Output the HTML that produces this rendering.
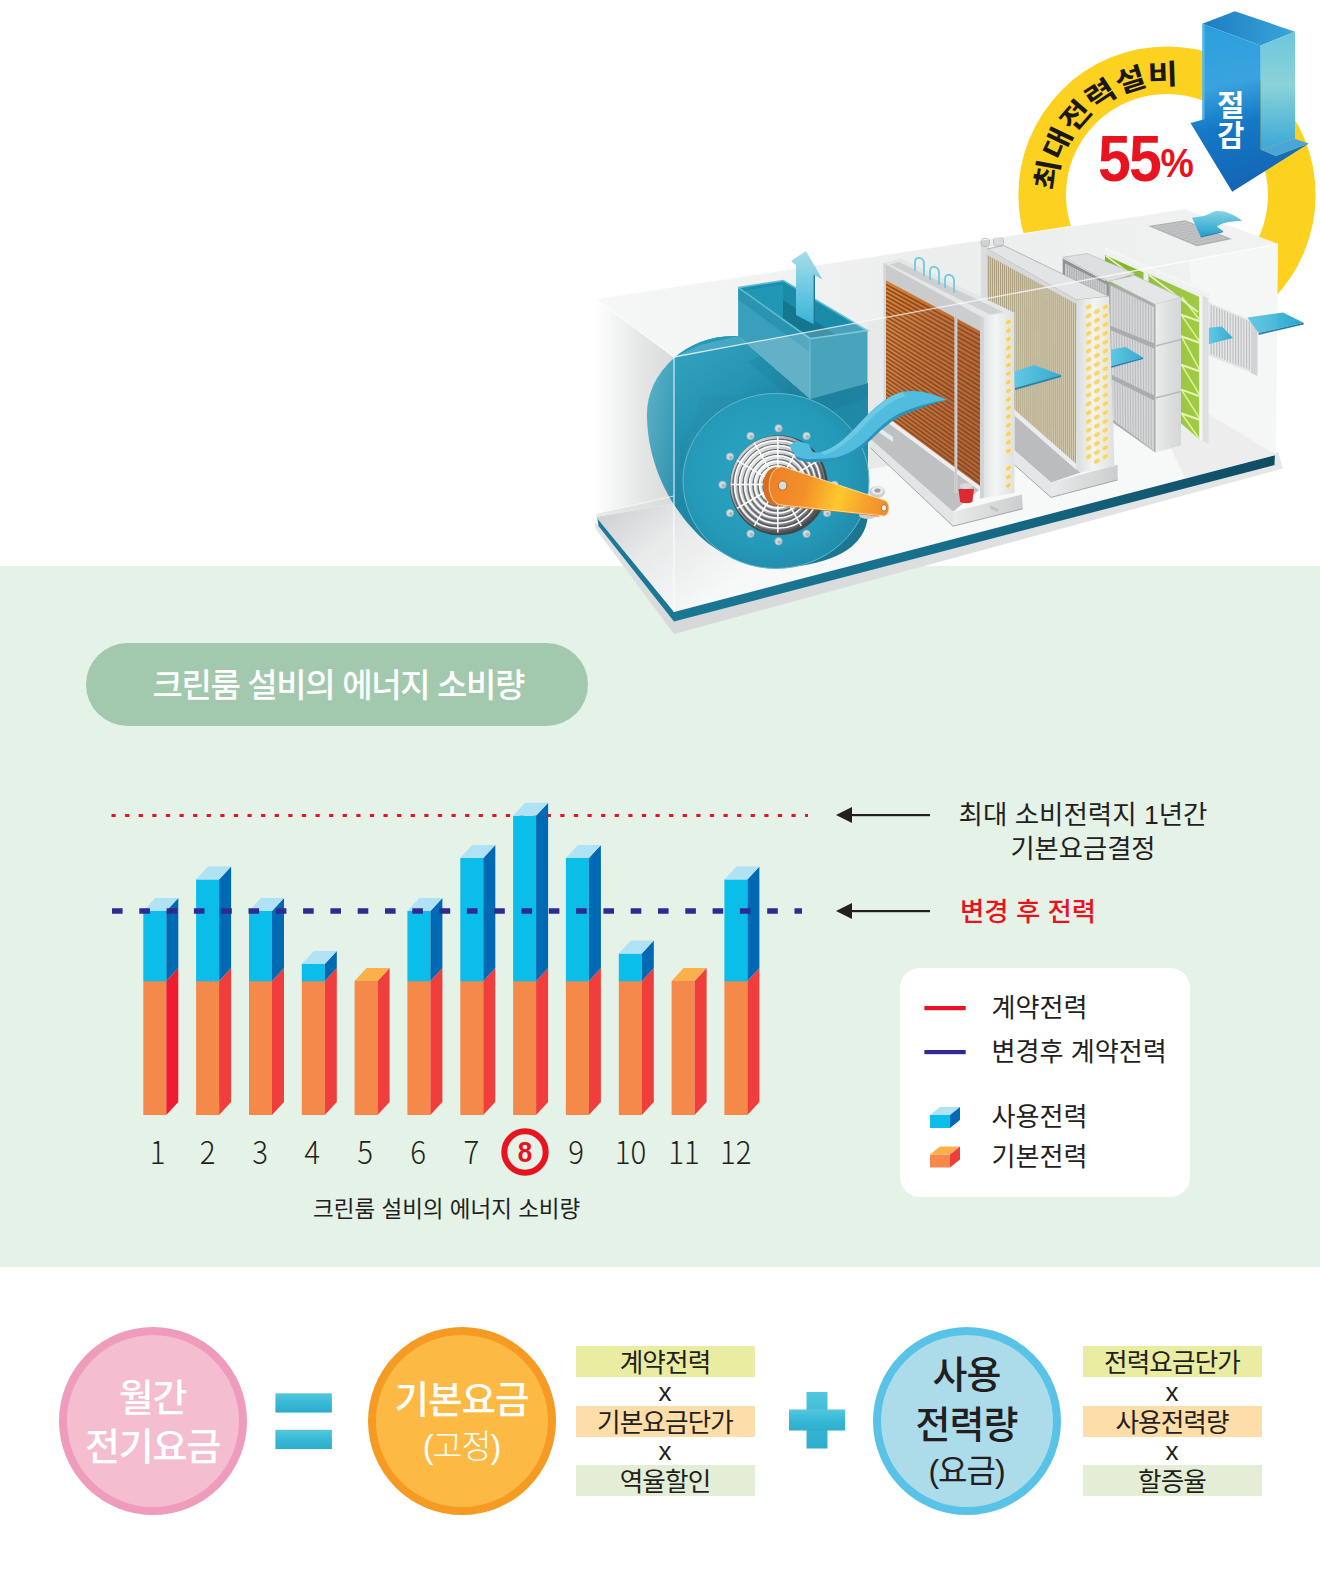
<!DOCTYPE html>
<html lang="ko"><head><meta charset="utf-8"><title>크린룸 설비의 에너지 소비량</title>
<style>
html,body{margin:0;padding:0;background:#fff;}
body{width:1320px;height:1588px;position:relative;overflow:hidden;font-family:"Liberation Sans","Noto Sans CJK KR","NanumGothic",sans-serif;color:#231f20;}
.band{position:absolute;left:0;top:566px;width:1320px;height:700.5px;background:#e4f2e7;}
.pill{position:absolute;left:86px;top:643px;width:501.5px;height:82.5px;border-radius:42px;background:#a2c9ae;color:#fff;font-weight:500;font-size:33px;line-height:85.9px;text-align:center;letter-spacing:-1.35px;text-indent:3px;font-family:"Liberation Sans","Noto Sans CJK KR","NanumGothic",sans-serif;}
svg{position:absolute;left:0;top:0;}
.dg{font-family:"Noto Sans CJK KR","Liberation Sans",sans-serif;font-weight:300;font-size:32px;fill:#231f20;}
.kr{font-family:"Liberation Sans","Noto Sans CJK KR","NanumGothic",sans-serif;}
.legend{position:absolute;left:899.5px;top:967.5px;width:290.5px;height:229.5px;border-radius:20px;background:#fff;}
.circ{position:absolute;box-sizing:border-box;width:188px;height:188px;border-radius:50%;text-align:center;font-family:"Liberation Sans","Noto Sans CJK KR","NanumGothic",sans-serif;}
.bx{position:absolute;width:179px;height:31px;line-height:34.1px;text-align:center;font-size:25.6px;font-family:"Liberation Sans","Noto Sans CJK KR","NanumGothic",sans-serif;letter-spacing:-0.9px;color:#231f20;}
.xx{position:absolute;width:179px;text-align:center;font-size:26px;line-height:28px;font-family:"Liberation Sans",sans-serif;color:#231f20;}
</style></head><body>
<div class="band"></div>
<div class="pill">크린룸 설비의 에너지 소비량</div>
<div class="legend"></div>

<svg width="1320" height="1588" viewBox="0 0 1320 1588">
<!--MACHINE-->
<g id="machine">
<defs>
<linearGradient id="gTop" x1="0" y1="0" x2="1" y2="0"><stop offset="0" stop-color="#f6f7f7"/><stop offset="0.5" stop-color="#eceeee"/><stop offset="1" stop-color="#f1f2f2"/></linearGradient>
<linearGradient id="gEnd" x1="0" y1="0" x2="1" y2="0"><stop offset="0" stop-color="#ffffff" stop-opacity="0.95"/><stop offset="0.25" stop-color="#ffffff" stop-opacity="0.6"/><stop offset="0.6" stop-color="#ffffff" stop-opacity="0.25"/><stop offset="1" stop-color="#ffffff" stop-opacity="0.12"/></linearGradient>
<linearGradient id="gFloor" gradientUnits="userSpaceOnUse" x1="610" y1="500" x2="700" y2="610"><stop offset="0" stop-color="#c6c8ca"/><stop offset="0.45" stop-color="#e6e7e8"/><stop offset="1" stop-color="#f7f8f8"/></linearGradient>
<linearGradient id="gBack" x1="0" y1="0" x2="1" y2="0"><stop offset="0" stop-color="#e6e8e8"/><stop offset="0.13" stop-color="#d3d5d6"/><stop offset="0.3" stop-color="#e2e4e4"/><stop offset="0.55" stop-color="#e9ebeb"/><stop offset="1" stop-color="#f0f1f1"/></linearGradient>
<linearGradient id="tealF" x1="0" y1="0" x2="1" y2="0"><stop offset="0" stop-color="#1d9fc0"/><stop offset="0.5" stop-color="#1a96b6"/><stop offset="1" stop-color="#157f9d"/></linearGradient>
<radialGradient id="tealD" cx="0.45" cy="0.45" r="0.6"><stop offset="0" stop-color="#1fa0c1"/><stop offset="0.7" stop-color="#1a95b5"/><stop offset="1" stop-color="#1584a3"/></radialGradient>
<linearGradient id="tealB" x1="0" y1="0" x2="1" y2="1"><stop offset="0" stop-color="#2f9fbd"/><stop offset="0.4" stop-color="#1584a3"/><stop offset="1" stop-color="#0f6a87"/></linearGradient>
<linearGradient id="tealT" x1="0" y1="0" x2="1" y2="1"><stop offset="0" stop-color="#2a9fbd"/><stop offset="0.35" stop-color="#1a90b0"/><stop offset="0.55" stop-color="#127d9b"/><stop offset="1" stop-color="#168aa9"/></linearGradient>
<linearGradient id="arm" gradientUnits="userSpaceOnUse" x1="768" y1="480" x2="890" y2="510"><stop offset="0" stop-color="#ee7a1c"/><stop offset="0.3" stop-color="#f38a1e"/><stop offset="0.58" stop-color="#fdc623"/><stop offset="0.8" stop-color="#f69c20"/><stop offset="1" stop-color="#ef8420"/></linearGradient>
<linearGradient id="upA" x1="0" y1="0" x2="0" y2="1"><stop offset="0" stop-color="#a8dde9"/><stop offset="1" stop-color="#36b4d9"/></linearGradient>
<linearGradient id="rib" x1="0" y1="0" x2="1" y2="0"><stop offset="0" stop-color="#5cc6e2"/><stop offset="1" stop-color="#2ba6cf"/></linearGradient>
<linearGradient id="cop" x1="0" y1="0" x2="1" y2="0.6"><stop offset="0" stop-color="#d8853a"/><stop offset="0.45" stop-color="#c26c2f"/><stop offset="1" stop-color="#b05d2b"/></linearGradient>
<linearGradient id="gPlate" x1="0" y1="0" x2="1" y2="0"><stop offset="0" stop-color="#d9dbdc"/><stop offset="0.45" stop-color="#f3f4f4"/><stop offset="1" stop-color="#dcdedf"/></linearGradient>
<linearGradient id="gSlabF" x1="0" y1="0" x2="1" y2="0"><stop offset="0" stop-color="#e8e9ea"/><stop offset="1" stop-color="#c9cbcc"/></linearGradient>
<linearGradient id="gFil" x1="0" y1="0" x2="1" y2="0"><stop offset="0" stop-color="#bfc1c3"/><stop offset="1" stop-color="#e4e5e6"/></linearGradient>
<linearGradient id="gFilS" x1="0" y1="0" x2="1" y2="0"><stop offset="0" stop-color="#e9eaea"/><stop offset="1" stop-color="#d2d4d5"/></linearGradient>
<linearGradient id="grn" x1="0" y1="0" x2="1" y2="0"><stop offset="0" stop-color="#7db22b"/><stop offset="1" stop-color="#9dc93a"/></linearGradient>
<linearGradient id="bArrF" gradientUnits="userSpaceOnUse" x1="1215" y1="25" x2="1250" y2="190"><stop offset="0" stop-color="#2b9fdc"/><stop offset="0.35" stop-color="#3aa3df"/><stop offset="0.6" stop-color="#1479c6"/><stop offset="1" stop-color="#1463b3"/></linearGradient>
<linearGradient id="bArrS" x1="0" y1="0" x2="0" y2="1"><stop offset="0" stop-color="#6cc6dd"/><stop offset="0.45" stop-color="#8ad3d9"/><stop offset="1" stop-color="#3ba7d6"/></linearGradient>
<linearGradient id="bArrT" x1="0" y1="0" x2="1" y2="0"><stop offset="0" stop-color="#1c7cc4"/><stop offset="1" stop-color="#3aa6d8"/></linearGradient>
<radialGradient id="fanG" cx="0.35" cy="0.35" r="0.75"><stop offset="0" stop-color="#f2f2f2"/><stop offset="0.45" stop-color="#c4c6c8"/><stop offset="0.8" stop-color="#7b7f81"/><stop offset="1" stop-color="#3f4345"/></radialGradient>
<linearGradient id="glassF" x1="0" y1="0" x2="1" y2="0"><stop offset="0" stop-color="#ffffff" stop-opacity="0.22"/><stop offset="1" stop-color="#ffffff" stop-opacity="0.10"/></linearGradient>
<linearGradient id="band" gradientUnits="userSpaceOnUse" x1="600" y1="0" x2="1275" y2="0"><stop offset="0" stop-color="#1a7a97"/><stop offset="0.5" stop-color="#176f8b"/><stop offset="1" stop-color="#0f4c62"/></linearGradient>
<linearGradient id="slab" gradientUnits="userSpaceOnUse" x1="600" y1="0" x2="1280" y2="0"><stop offset="0" stop-color="#e2e3e4"/><stop offset="0.12" stop-color="#d6d7d8"/><stop offset="1" stop-color="#e6e7e8"/></linearGradient>
<linearGradient id="inA" x1="0" y1="0" x2="0" y2="1"><stop offset="0" stop-color="#86d2e4"/><stop offset="1" stop-color="#22a2cf"/></linearGradient>
<clipPath id="boxclip"><polygon points="596,299 1184,209 1278,244 1278,470 674,640 590,540"/></clipPath>
</defs>
<circle cx="1167" cy="195" r="124.8" fill="none" stroke="#fcd11f" stroke-width="47.6"/>
<path id="arc" d="M 1055.6 191.3 A 111.5 111.5 0 0 1 1278.5 195" fill="none"/>
<text font-family="Liberation Sans, Noto Sans CJK KR, NanumGothic, sans-serif" font-weight="700" font-size="28" fill="#1a1718" textLength="181.5" lengthAdjust="spacingAndGlyphs"><textPath href="#arc" startOffset="0" textLength="181.5" lengthAdjust="spacingAndGlyphs">최대전력설비</textPath></text>
<text transform="translate(1098,180.9) scale(0.915,1)" font-family="Liberation Sans, sans-serif" font-weight="bold" font-size="64.5" letter-spacing="-2" fill="#e8131e">55<tspan font-size="41" dy="-3.7" dx="0.5" letter-spacing="0">%</tspan></text>
<polygon points="595.0,522.0 595.0,528.0 674.0,634.0 1283.0,468.5 1278.0,452.0 674.0,610.0" fill="url(#slab)" />
<polygon points="597.0,516.0 598.5,526.0 674.0,621.5 1274.5,465.0 1275.0,452.0 674.0,607.0" fill="url(#band)" />
<polygon points="596.0,517.0 674.0,612.0 1276.0,455.0 1204.0,411.0" fill="url(#gFloor)" />
<polygon points="596.0,299.0 1184.0,209.0 1204.0,411.0 596.0,517.0" fill="url(#gBack)" />
<polygon points="1184.0,209.0 1278.0,244.0 1276.0,455.0 1204.0,411.0" fill="#f5f6f6" />
<polygon points="1160.0,425.0 1204.0,411.0 1276.0,455.0 1185.0,478.0" fill="#dcddde" opacity="0.4"/>
<polygon points="596.0,299.0 1184.0,209.0 1278.0,244.0 674.0,357.0" fill="url(#gTop)" />
<polygon points="1148.2,226.1 1185.2,220.2 1232.0,238.9 1197.0,246.3" fill="#aeb0b2" />
<polygon points="1153.0,226.5 1185.0,221.6 1226.5,238.5 1197.0,244.6" fill="#c6c8c9" />
<line x1="1156.6" y1="226.0" x2="1200.3" y2="243.9" stroke="#b3b5b7" stroke-width="0.7"/>
<line x1="1160.1" y1="225.4" x2="1203.6" y2="243.2" stroke="#b3b5b7" stroke-width="0.7"/>
<line x1="1163.7" y1="224.9" x2="1206.8" y2="242.6" stroke="#b3b5b7" stroke-width="0.7"/>
<line x1="1167.2" y1="224.3" x2="1210.1" y2="241.9" stroke="#b3b5b7" stroke-width="0.7"/>
<line x1="1170.8" y1="223.8" x2="1213.4" y2="241.2" stroke="#b3b5b7" stroke-width="0.7"/>
<line x1="1174.3" y1="223.2" x2="1216.7" y2="240.5" stroke="#b3b5b7" stroke-width="0.7"/>
<line x1="1177.9" y1="222.7" x2="1219.9" y2="239.9" stroke="#b3b5b7" stroke-width="0.7"/>
<line x1="1181.4" y1="222.1" x2="1223.2" y2="239.2" stroke="#b3b5b7" stroke-width="0.7"/>
<line x1="1157.9" y1="228.5" x2="1189.6" y2="223.5" stroke="#b3b5b7" stroke-width="0.7"/>
<line x1="1162.8" y1="230.5" x2="1194.2" y2="225.4" stroke="#b3b5b7" stroke-width="0.7"/>
<line x1="1167.7" y1="232.5" x2="1198.8" y2="227.2" stroke="#b3b5b7" stroke-width="0.7"/>
<line x1="1172.6" y1="234.5" x2="1203.4" y2="229.1" stroke="#b3b5b7" stroke-width="0.7"/>
<line x1="1177.4" y1="236.6" x2="1208.1" y2="231.0" stroke="#b3b5b7" stroke-width="0.7"/>
<line x1="1182.3" y1="238.6" x2="1212.7" y2="232.9" stroke="#b3b5b7" stroke-width="0.7"/>
<line x1="1187.2" y1="240.6" x2="1217.3" y2="234.7" stroke="#b3b5b7" stroke-width="0.7"/>
<line x1="1192.1" y1="242.6" x2="1221.9" y2="236.6" stroke="#b3b5b7" stroke-width="0.7"/>
<path d="M1242.3,220.7 C1232,213 1222,210 1214.7,211.3 L1204.9,215.8 L1192,217.7 L1200.4,236 L1223,231 L1216.7,226.6 C1222,222.5 1232,221 1242.3,220.7 Z" fill="url(#inA)"/>
<path d="M1200.4,236 L1223,231 L1223,232.3 L1200.8,237.4 Z" fill="#1d86ad"/>
<polygon points="1208.5,302.3 1256.6,322.7 1256.6,374.9 1208.5,355.5" fill="#e3e4e5" />
<line x1="1211.2" y1="305.2" x2="1211.2" y2="354.1" stroke="#b4b6b8" stroke-width="1"/>
<line x1="1213.9" y1="306.3" x2="1213.9" y2="355.2" stroke="#b4b6b8" stroke-width="1"/>
<line x1="1216.7" y1="307.5" x2="1216.7" y2="356.4" stroke="#b4b6b8" stroke-width="1"/>
<line x1="1219.4" y1="308.6" x2="1219.4" y2="357.5" stroke="#b4b6b8" stroke-width="1"/>
<line x1="1222.1" y1="309.8" x2="1222.1" y2="358.6" stroke="#b4b6b8" stroke-width="1"/>
<line x1="1224.8" y1="310.9" x2="1224.8" y2="359.8" stroke="#b4b6b8" stroke-width="1"/>
<line x1="1227.5" y1="312.1" x2="1227.5" y2="360.9" stroke="#b4b6b8" stroke-width="1"/>
<line x1="1230.2" y1="313.2" x2="1230.2" y2="362.0" stroke="#b4b6b8" stroke-width="1"/>
<line x1="1233.0" y1="314.4" x2="1233.0" y2="363.1" stroke="#b4b6b8" stroke-width="1"/>
<line x1="1235.7" y1="315.6" x2="1235.7" y2="364.2" stroke="#b4b6b8" stroke-width="1"/>
<line x1="1238.4" y1="316.7" x2="1238.4" y2="365.4" stroke="#b4b6b8" stroke-width="1"/>
<line x1="1241.1" y1="317.9" x2="1241.1" y2="366.5" stroke="#b4b6b8" stroke-width="1"/>
<line x1="1243.8" y1="319.0" x2="1243.8" y2="367.6" stroke="#b4b6b8" stroke-width="1"/>
<line x1="1246.6" y1="320.2" x2="1246.6" y2="368.8" stroke="#b4b6b8" stroke-width="1"/>
<line x1="1249.3" y1="321.3" x2="1249.3" y2="369.9" stroke="#b4b6b8" stroke-width="1"/>
<polygon points="1251.0,320.5 1257.5,323.0 1257.5,376.0 1251.0,373.0" fill="#cfd1d2" />
<polygon points="1247.4,317.6 1283.0,312.5 1303.6,322.7 1258.6,333.0" fill="url(#rib)" />
<polygon points="1258.6,333.0 1303.6,322.7 1303.6,324.5 1258.6,335.0" fill="#1d7fa6" />
<polygon points="1208.5,327.8 1222.0,326.5 1233.0,338.0 1208.5,344.2" fill="url(#rib)" />
<polygon points="1103.2,249.0 1208.5,294.0 1208.5,443.7 1103.2,360.0" fill="#eceeee" />
<polygon points="1105.0,254.5 1199.5,297.0 1199.5,439.5 1105.0,357.0" fill="url(#grn)" />
<line x1="1182" y1="297.0" x2="1199.5" y2="319.8" stroke="#dff29a" stroke-width="1.5"/>
<line x1="1182" y1="315.8" x2="1199.5" y2="341.3" stroke="#dff29a" stroke-width="1.5"/>
<line x1="1181" y1="314.8" x2="1199.5" y2="321.3" stroke="#e6f5b5" stroke-width="2"/>
<line x1="1182" y1="337.3" x2="1199.5" y2="369.7" stroke="#dff29a" stroke-width="1.5"/>
<line x1="1181" y1="336.3" x2="1199.5" y2="342.8" stroke="#e6f5b5" stroke-width="2"/>
<line x1="1182" y1="365.7" x2="1199.5" y2="394.6" stroke="#dff29a" stroke-width="1.5"/>
<line x1="1181" y1="364.7" x2="1199.5" y2="371.2" stroke="#e6f5b5" stroke-width="2"/>
<line x1="1182" y1="390.6" x2="1199.5" y2="418.2" stroke="#dff29a" stroke-width="1.5"/>
<line x1="1181" y1="389.6" x2="1199.5" y2="396.1" stroke="#e6f5b5" stroke-width="2"/>
<line x1="1182" y1="414.2" x2="1199.5" y2="439.0" stroke="#dff29a" stroke-width="1.5"/>
<line x1="1181" y1="413.2" x2="1199.5" y2="419.7" stroke="#e6f5b5" stroke-width="2"/>
<line x1="1105" y1="254.5" x2="1144" y2="272" stroke="#eef3e0" stroke-width="1.2"/>
<line x1="1106" y1="256" x2="1143" y2="283" stroke="#e6f2c4" stroke-width="1.6"/>
<polygon points="1143.5,268.0 1148.5,270.0 1148.5,304.0 1143.5,302.0" fill="#eef0ee" />
<line x1="1149" y1="275" x2="1198" y2="312" stroke="#e6f2c4" stroke-width="1.6"/>
<polygon points="1199.5,290.5 1208.5,294.0 1208.5,443.7 1199.5,439.5" fill="#dcdedf" />
<polygon points="1199.5,290.5 1202.5,291.7 1202.5,441.0 1199.5,439.5" fill="#f4f5f5" />
<polygon points="1103.2,249.0 1106.0,247.8 1211.0,292.8 1208.5,294.0" fill="#f4f5f5" />
<polygon points="1103.2,249.0 1208.5,294.0 1208.5,298.0 1103.2,253.5" fill="#f0f1f1" />
<polygon points="1062.7,257.3 1087.3,253.6 1135.0,273.6 1109.0,282.0" fill="#dddfe0" stroke="#b4b6b8" stroke-width="0.6"/>
<polygon points="1062.7,258.5 1109.0,283.0 1109.0,335.0 1062.7,312.0" fill="#8f9193" />
<polygon points="1065.0,263.5 1106.5,284.5 1106.5,333.0 1065.0,311.0" fill="#c9cbcd" />
<line x1="1067.3" y1="264.7" x2="1067.3" y2="312.2" stroke="#a2a4a6" stroke-width="0.8"/>
<line x1="1069.6" y1="265.8" x2="1069.6" y2="313.4" stroke="#a2a4a6" stroke-width="0.8"/>
<line x1="1071.9" y1="267.0" x2="1071.9" y2="314.7" stroke="#a2a4a6" stroke-width="0.8"/>
<line x1="1074.2" y1="268.2" x2="1074.2" y2="315.9" stroke="#a2a4a6" stroke-width="0.8"/>
<line x1="1076.5" y1="269.3" x2="1076.5" y2="317.1" stroke="#a2a4a6" stroke-width="0.8"/>
<line x1="1078.8" y1="270.5" x2="1078.8" y2="318.3" stroke="#a2a4a6" stroke-width="0.8"/>
<line x1="1081.1" y1="271.7" x2="1081.1" y2="319.6" stroke="#a2a4a6" stroke-width="0.8"/>
<line x1="1083.4" y1="272.8" x2="1083.4" y2="320.8" stroke="#a2a4a6" stroke-width="0.8"/>
<line x1="1085.8" y1="274.0" x2="1085.8" y2="322.0" stroke="#a2a4a6" stroke-width="0.8"/>
<line x1="1088.1" y1="275.2" x2="1088.1" y2="323.2" stroke="#a2a4a6" stroke-width="0.8"/>
<line x1="1090.4" y1="276.3" x2="1090.4" y2="324.4" stroke="#a2a4a6" stroke-width="0.8"/>
<line x1="1092.7" y1="277.5" x2="1092.7" y2="325.7" stroke="#a2a4a6" stroke-width="0.8"/>
<line x1="1095.0" y1="278.7" x2="1095.0" y2="326.9" stroke="#a2a4a6" stroke-width="0.8"/>
<line x1="1097.3" y1="279.8" x2="1097.3" y2="328.1" stroke="#a2a4a6" stroke-width="0.8"/>
<line x1="1099.6" y1="281.0" x2="1099.6" y2="329.3" stroke="#a2a4a6" stroke-width="0.8"/>
<line x1="1101.9" y1="282.2" x2="1101.9" y2="330.6" stroke="#a2a4a6" stroke-width="0.8"/>
<line x1="1104.2" y1="283.3" x2="1104.2" y2="331.8" stroke="#a2a4a6" stroke-width="0.8"/>
<polygon points="1109.0,283.0 1156.0,302.0 1156.0,452.6 1111.0,421.0" fill="#a6a8aa" />
<polygon points="1109.0,281.0 1134.5,275.5 1181.0,297.3 1155.5,304.5" fill="#e3e5e6" stroke="#b9bbbd" stroke-width="0.6"/>
<polygon points="1109.0,283.6 1155.5,305.5 1155.5,345.5 1109.0,327.3" fill="#a6a8aa" />
<polygon points="1110.6,285.8 1153.9,307.1 1153.9,343.3 1110.6,325.7" fill="#d3d5d6" />
<line x1="1113.3" y1="287.1" x2="1113.3" y2="326.8" stroke="#aeb0b2" stroke-width="0.8"/>
<line x1="1116.0" y1="288.5" x2="1116.0" y2="327.9" stroke="#aeb0b2" stroke-width="0.8"/>
<line x1="1118.7" y1="289.8" x2="1118.7" y2="329.0" stroke="#aeb0b2" stroke-width="0.8"/>
<line x1="1121.4" y1="291.1" x2="1121.4" y2="330.1" stroke="#aeb0b2" stroke-width="0.8"/>
<line x1="1124.1" y1="292.5" x2="1124.1" y2="331.2" stroke="#aeb0b2" stroke-width="0.8"/>
<line x1="1126.8" y1="293.8" x2="1126.8" y2="332.3" stroke="#aeb0b2" stroke-width="0.8"/>
<line x1="1129.5" y1="295.1" x2="1129.5" y2="333.4" stroke="#aeb0b2" stroke-width="0.8"/>
<line x1="1132.2" y1="296.5" x2="1132.2" y2="334.5" stroke="#aeb0b2" stroke-width="0.8"/>
<line x1="1135.0" y1="297.8" x2="1135.0" y2="335.6" stroke="#aeb0b2" stroke-width="0.8"/>
<line x1="1137.7" y1="299.1" x2="1137.7" y2="336.7" stroke="#aeb0b2" stroke-width="0.8"/>
<line x1="1140.4" y1="300.4" x2="1140.4" y2="337.8" stroke="#aeb0b2" stroke-width="0.8"/>
<line x1="1143.1" y1="301.8" x2="1143.1" y2="338.9" stroke="#aeb0b2" stroke-width="0.8"/>
<line x1="1145.8" y1="303.1" x2="1145.8" y2="340.0" stroke="#aeb0b2" stroke-width="0.8"/>
<line x1="1148.5" y1="304.4" x2="1148.5" y2="341.1" stroke="#aeb0b2" stroke-width="0.8"/>
<line x1="1151.2" y1="305.8" x2="1151.2" y2="342.2" stroke="#aeb0b2" stroke-width="0.8"/>
<polygon points="1109.5,328.3 1155.5,347.0 1155.5,397.5 1110.5,376.5" fill="#a6a8aa" />
<polygon points="1111.1,330.5 1153.9,348.6 1153.9,395.3 1112.1,374.9" fill="#d3d5d6" />
<line x1="1113.8" y1="331.6" x2="1114.7" y2="376.2" stroke="#aeb0b2" stroke-width="0.8"/>
<line x1="1116.4" y1="332.8" x2="1117.3" y2="377.4" stroke="#aeb0b2" stroke-width="0.8"/>
<line x1="1119.1" y1="333.9" x2="1119.9" y2="378.7" stroke="#aeb0b2" stroke-width="0.8"/>
<line x1="1121.8" y1="335.0" x2="1122.5" y2="380.0" stroke="#aeb0b2" stroke-width="0.8"/>
<line x1="1124.5" y1="336.2" x2="1125.2" y2="381.3" stroke="#aeb0b2" stroke-width="0.8"/>
<line x1="1127.2" y1="337.3" x2="1127.8" y2="382.6" stroke="#aeb0b2" stroke-width="0.8"/>
<line x1="1129.8" y1="338.4" x2="1130.4" y2="383.8" stroke="#aeb0b2" stroke-width="0.8"/>
<line x1="1132.5" y1="339.6" x2="1133.0" y2="385.1" stroke="#aeb0b2" stroke-width="0.8"/>
<line x1="1135.2" y1="340.7" x2="1135.6" y2="386.4" stroke="#aeb0b2" stroke-width="0.8"/>
<line x1="1137.8" y1="341.8" x2="1138.2" y2="387.6" stroke="#aeb0b2" stroke-width="0.8"/>
<line x1="1140.5" y1="342.9" x2="1140.8" y2="388.9" stroke="#aeb0b2" stroke-width="0.8"/>
<line x1="1143.2" y1="344.1" x2="1143.5" y2="390.2" stroke="#aeb0b2" stroke-width="0.8"/>
<line x1="1145.9" y1="345.2" x2="1146.1" y2="391.5" stroke="#aeb0b2" stroke-width="0.8"/>
<line x1="1148.6" y1="346.3" x2="1148.7" y2="392.8" stroke="#aeb0b2" stroke-width="0.8"/>
<line x1="1151.2" y1="347.5" x2="1151.3" y2="394.0" stroke="#aeb0b2" stroke-width="0.8"/>
<polygon points="1110.5,377.5 1155.5,399.0 1155.5,452.6 1111.0,421.0" fill="#a6a8aa" />
<polygon points="1112.1,379.7 1153.9,400.6 1153.9,450.4 1112.6,419.4" fill="#d3d5d6" />
<line x1="1114.7" y1="381.0" x2="1115.2" y2="421.3" stroke="#aeb0b2" stroke-width="0.8"/>
<line x1="1117.3" y1="382.3" x2="1117.8" y2="423.3" stroke="#aeb0b2" stroke-width="0.8"/>
<line x1="1119.9" y1="383.6" x2="1120.3" y2="425.2" stroke="#aeb0b2" stroke-width="0.8"/>
<line x1="1122.5" y1="384.9" x2="1122.9" y2="427.1" stroke="#aeb0b2" stroke-width="0.8"/>
<line x1="1125.2" y1="386.2" x2="1125.5" y2="429.1" stroke="#aeb0b2" stroke-width="0.8"/>
<line x1="1127.8" y1="387.5" x2="1128.1" y2="431.0" stroke="#aeb0b2" stroke-width="0.8"/>
<line x1="1130.4" y1="388.8" x2="1130.7" y2="433.0" stroke="#aeb0b2" stroke-width="0.8"/>
<line x1="1133.0" y1="390.1" x2="1133.2" y2="434.9" stroke="#aeb0b2" stroke-width="0.8"/>
<line x1="1135.6" y1="391.5" x2="1135.8" y2="436.8" stroke="#aeb0b2" stroke-width="0.8"/>
<line x1="1138.2" y1="392.8" x2="1138.4" y2="438.8" stroke="#aeb0b2" stroke-width="0.8"/>
<line x1="1140.8" y1="394.1" x2="1141.0" y2="440.7" stroke="#aeb0b2" stroke-width="0.8"/>
<line x1="1143.5" y1="395.4" x2="1143.6" y2="442.7" stroke="#aeb0b2" stroke-width="0.8"/>
<line x1="1146.1" y1="396.7" x2="1146.2" y2="444.6" stroke="#aeb0b2" stroke-width="0.8"/>
<line x1="1148.7" y1="398.0" x2="1148.7" y2="446.5" stroke="#aeb0b2" stroke-width="0.8"/>
<line x1="1151.3" y1="399.3" x2="1151.3" y2="448.5" stroke="#aeb0b2" stroke-width="0.8"/>
<polygon points="1155.5,304.5 1181.0,297.3 1181.0,445.4 1155.5,452.6" fill="url(#gFilS)" />
<line x1="1155.5" y1="346" x2="1181" y2="339.5" stroke="#b4b6b8" stroke-width="1.4"/>
<line x1="1155.5" y1="398" x2="1181" y2="391.5" stroke="#b4b6b8" stroke-width="1.4"/>
<polygon points="1109.0,350.0 1125.7,347.0 1143.0,357.5 1109.0,366.7" fill="url(#rib)" />
<polygon points="1109.0,366.7 1143.0,357.5 1143.0,359.0 1109.0,368.5" fill="#1d7fa6" />
<polygon points="1014.5,414.0 1080.5,472.4 1051.0,482.5 1014.5,450.5" fill="#b7b9ba" />
<polygon points="1014.5,450.5 1051.0,482.5 1051.0,497.4 1014.5,465.0" fill="#e4e5e6" />
<polygon points="1051.0,482.5 1117.6,464.8 1117.6,480.0 1051.0,497.4" fill="url(#gSlabF)" />
<polyline points="1014.5,465 1051,497.4 1117.6,480" fill="none" stroke="#8f9193" stroke-width="0.8"/>
<polygon points="981.0,241.0 987.3,240.0 987.3,420.0 981.0,420.0" fill="#dadcdd" />
<rect x="981" y="238.5" width="8.5" height="8" rx="2.5" fill="#d0d2d3" stroke="#a9abad" stroke-width="0.6"/><rect x="993.5" y="237.5" width="10" height="8.5" rx="2.5" fill="#d8dadb" stroke="#a9abad" stroke-width="0.6"/>
<polygon points="987.3,249.0 1003.6,245.5 1109.0,296.4 1076.4,300.0" fill="#e2e4e5" stroke="#a9abad" stroke-width="0.8"/>
<polygon points="987.3,253.5 1076.4,301.5 1076.4,468.0 987.5,390.0" fill="#d9d0b6" />
<line x1="988.3" y1="255.0" x2="988.5" y2="389.9" stroke="#a99d7d" stroke-width="1.05"/>
<line x1="990.3" y1="256.1" x2="990.5" y2="391.7" stroke="#a99d7d" stroke-width="1.05"/>
<line x1="992.4" y1="257.2" x2="992.6" y2="393.4" stroke="#a99d7d" stroke-width="1.05"/>
<line x1="994.4" y1="258.3" x2="994.6" y2="395.2" stroke="#a99d7d" stroke-width="1.05"/>
<line x1="996.4" y1="259.4" x2="996.6" y2="397.0" stroke="#a99d7d" stroke-width="1.05"/>
<line x1="998.4" y1="260.5" x2="998.6" y2="398.8" stroke="#a99d7d" stroke-width="1.05"/>
<line x1="1000.5" y1="261.6" x2="1000.6" y2="400.5" stroke="#a99d7d" stroke-width="1.05"/>
<line x1="1002.5" y1="262.7" x2="1002.7" y2="402.3" stroke="#a99d7d" stroke-width="1.05"/>
<line x1="1004.5" y1="263.8" x2="1004.7" y2="404.1" stroke="#a99d7d" stroke-width="1.05"/>
<line x1="1006.5" y1="264.9" x2="1006.7" y2="405.8" stroke="#a99d7d" stroke-width="1.05"/>
<line x1="1008.6" y1="266.0" x2="1008.7" y2="407.6" stroke="#a99d7d" stroke-width="1.05"/>
<line x1="1010.6" y1="267.0" x2="1010.7" y2="409.4" stroke="#a99d7d" stroke-width="1.05"/>
<line x1="1012.6" y1="268.1" x2="1012.8" y2="411.2" stroke="#a99d7d" stroke-width="1.05"/>
<line x1="1014.6" y1="269.2" x2="1014.8" y2="412.9" stroke="#a99d7d" stroke-width="1.05"/>
<line x1="1016.7" y1="270.3" x2="1016.8" y2="414.7" stroke="#a99d7d" stroke-width="1.05"/>
<line x1="1018.7" y1="271.4" x2="1018.8" y2="416.5" stroke="#a99d7d" stroke-width="1.05"/>
<line x1="1020.7" y1="272.5" x2="1020.8" y2="418.2" stroke="#a99d7d" stroke-width="1.05"/>
<line x1="1022.7" y1="273.6" x2="1022.9" y2="420.0" stroke="#a99d7d" stroke-width="1.05"/>
<line x1="1024.8" y1="274.7" x2="1024.9" y2="421.8" stroke="#a99d7d" stroke-width="1.05"/>
<line x1="1026.8" y1="275.8" x2="1026.9" y2="423.6" stroke="#a99d7d" stroke-width="1.05"/>
<line x1="1028.8" y1="276.9" x2="1028.9" y2="425.3" stroke="#a99d7d" stroke-width="1.05"/>
<line x1="1030.8" y1="278.0" x2="1030.9" y2="427.1" stroke="#a99d7d" stroke-width="1.05"/>
<line x1="1032.9" y1="279.0" x2="1033.0" y2="428.9" stroke="#a99d7d" stroke-width="1.05"/>
<line x1="1034.9" y1="280.1" x2="1035.0" y2="430.7" stroke="#a99d7d" stroke-width="1.05"/>
<line x1="1036.9" y1="281.2" x2="1037.0" y2="432.4" stroke="#a99d7d" stroke-width="1.05"/>
<line x1="1038.9" y1="282.3" x2="1039.0" y2="434.2" stroke="#a99d7d" stroke-width="1.05"/>
<line x1="1041.0" y1="283.4" x2="1041.0" y2="436.0" stroke="#a99d7d" stroke-width="1.05"/>
<line x1="1043.0" y1="284.5" x2="1043.1" y2="437.8" stroke="#a99d7d" stroke-width="1.05"/>
<line x1="1045.0" y1="285.6" x2="1045.1" y2="439.5" stroke="#a99d7d" stroke-width="1.05"/>
<line x1="1047.0" y1="286.7" x2="1047.1" y2="441.3" stroke="#a99d7d" stroke-width="1.05"/>
<line x1="1049.1" y1="287.8" x2="1049.1" y2="443.1" stroke="#a99d7d" stroke-width="1.05"/>
<line x1="1051.1" y1="288.9" x2="1051.1" y2="444.8" stroke="#a99d7d" stroke-width="1.05"/>
<line x1="1053.1" y1="290.0" x2="1053.2" y2="446.6" stroke="#a99d7d" stroke-width="1.05"/>
<line x1="1055.1" y1="291.0" x2="1055.2" y2="448.4" stroke="#a99d7d" stroke-width="1.05"/>
<line x1="1057.2" y1="292.1" x2="1057.2" y2="450.2" stroke="#a99d7d" stroke-width="1.05"/>
<line x1="1059.2" y1="293.2" x2="1059.2" y2="451.9" stroke="#a99d7d" stroke-width="1.05"/>
<line x1="1061.2" y1="294.3" x2="1061.2" y2="453.7" stroke="#a99d7d" stroke-width="1.05"/>
<line x1="1063.2" y1="295.4" x2="1063.3" y2="455.5" stroke="#a99d7d" stroke-width="1.05"/>
<line x1="1065.3" y1="296.5" x2="1065.3" y2="457.2" stroke="#a99d7d" stroke-width="1.05"/>
<line x1="1067.3" y1="297.6" x2="1067.3" y2="459.0" stroke="#a99d7d" stroke-width="1.05"/>
<line x1="1069.3" y1="298.7" x2="1069.3" y2="460.8" stroke="#a99d7d" stroke-width="1.05"/>
<line x1="1071.3" y1="299.8" x2="1071.3" y2="462.6" stroke="#a99d7d" stroke-width="1.05"/>
<line x1="1073.4" y1="300.9" x2="1073.4" y2="464.3" stroke="#a99d7d" stroke-width="1.05"/>
<line x1="1075.4" y1="302.0" x2="1075.4" y2="466.1" stroke="#a99d7d" stroke-width="1.05"/>
<polygon points="987.3,249.0 1076.4,300.0 1076.4,304.0 987.3,255.0" fill="#d5d7d8" />
<polygon points="987.5,386.0 1076.4,464.0 1076.4,470.0 987.5,392.0" fill="#e9eaea" />
<polygon points="1076.4,300.0 1109.0,296.4 1114.5,466.4 1080.5,472.4 1076.4,469.0" fill="url(#gPlate)" />
<ellipse cx="1088.5" cy="307.0" rx="3.7" ry="2.5" transform="rotate(-35 1088.5 307.0)" fill="#f2d468" stroke="#fff3c0" stroke-width="0.7"/>
<ellipse cx="1088.5" cy="315.8" rx="3.7" ry="2.5" transform="rotate(-35 1088.5 315.8)" fill="#f2d468" stroke="#fff3c0" stroke-width="0.7"/>
<ellipse cx="1088.5" cy="324.6" rx="3.7" ry="2.5" transform="rotate(-35 1088.5 324.6)" fill="#f2d468" stroke="#fff3c0" stroke-width="0.7"/>
<ellipse cx="1088.5" cy="333.4" rx="3.7" ry="2.5" transform="rotate(-35 1088.5 333.4)" fill="#f2d468" stroke="#fff3c0" stroke-width="0.7"/>
<ellipse cx="1088.5" cy="342.2" rx="3.7" ry="2.5" transform="rotate(-35 1088.5 342.2)" fill="#f2d468" stroke="#fff3c0" stroke-width="0.7"/>
<ellipse cx="1088.5" cy="351.0" rx="3.7" ry="2.5" transform="rotate(-35 1088.5 351.0)" fill="#f2d468" stroke="#fff3c0" stroke-width="0.7"/>
<ellipse cx="1088.5" cy="359.8" rx="3.7" ry="2.5" transform="rotate(-35 1088.5 359.8)" fill="#f2d468" stroke="#fff3c0" stroke-width="0.7"/>
<ellipse cx="1088.5" cy="368.6" rx="3.7" ry="2.5" transform="rotate(-35 1088.5 368.6)" fill="#f2d468" stroke="#fff3c0" stroke-width="0.7"/>
<ellipse cx="1088.5" cy="377.4" rx="3.7" ry="2.5" transform="rotate(-35 1088.5 377.4)" fill="#f2d468" stroke="#fff3c0" stroke-width="0.7"/>
<ellipse cx="1088.5" cy="386.2" rx="3.7" ry="2.5" transform="rotate(-35 1088.5 386.2)" fill="#f2d468" stroke="#fff3c0" stroke-width="0.7"/>
<ellipse cx="1088.5" cy="395.0" rx="3.7" ry="2.5" transform="rotate(-35 1088.5 395.0)" fill="#f2d468" stroke="#fff3c0" stroke-width="0.7"/>
<ellipse cx="1088.5" cy="403.8" rx="3.7" ry="2.5" transform="rotate(-35 1088.5 403.8)" fill="#f2d468" stroke="#fff3c0" stroke-width="0.7"/>
<ellipse cx="1088.5" cy="412.6" rx="3.7" ry="2.5" transform="rotate(-35 1088.5 412.6)" fill="#f2d468" stroke="#fff3c0" stroke-width="0.7"/>
<ellipse cx="1088.5" cy="421.4" rx="3.7" ry="2.5" transform="rotate(-35 1088.5 421.4)" fill="#f2d468" stroke="#fff3c0" stroke-width="0.7"/>
<ellipse cx="1088.5" cy="430.2" rx="3.7" ry="2.5" transform="rotate(-35 1088.5 430.2)" fill="#f2d468" stroke="#fff3c0" stroke-width="0.7"/>
<ellipse cx="1088.5" cy="439.0" rx="3.7" ry="2.5" transform="rotate(-35 1088.5 439.0)" fill="#f2d468" stroke="#fff3c0" stroke-width="0.7"/>
<ellipse cx="1088.5" cy="447.8" rx="3.7" ry="2.5" transform="rotate(-35 1088.5 447.8)" fill="#f2d468" stroke="#fff3c0" stroke-width="0.7"/>
<ellipse cx="1088.5" cy="456.6" rx="3.7" ry="2.5" transform="rotate(-35 1088.5 456.6)" fill="#f2d468" stroke="#fff3c0" stroke-width="0.7"/>
<ellipse cx="1097" cy="311.5" rx="3.7" ry="2.5" transform="rotate(-35 1097 311.5)" fill="#f2d468" stroke="#fff3c0" stroke-width="0.7"/>
<ellipse cx="1097" cy="320.3" rx="3.7" ry="2.5" transform="rotate(-35 1097 320.3)" fill="#f2d468" stroke="#fff3c0" stroke-width="0.7"/>
<ellipse cx="1097" cy="329.1" rx="3.7" ry="2.5" transform="rotate(-35 1097 329.1)" fill="#f2d468" stroke="#fff3c0" stroke-width="0.7"/>
<ellipse cx="1097" cy="337.9" rx="3.7" ry="2.5" transform="rotate(-35 1097 337.9)" fill="#f2d468" stroke="#fff3c0" stroke-width="0.7"/>
<ellipse cx="1097" cy="346.7" rx="3.7" ry="2.5" transform="rotate(-35 1097 346.7)" fill="#f2d468" stroke="#fff3c0" stroke-width="0.7"/>
<ellipse cx="1097" cy="355.5" rx="3.7" ry="2.5" transform="rotate(-35 1097 355.5)" fill="#f2d468" stroke="#fff3c0" stroke-width="0.7"/>
<ellipse cx="1097" cy="364.3" rx="3.7" ry="2.5" transform="rotate(-35 1097 364.3)" fill="#f2d468" stroke="#fff3c0" stroke-width="0.7"/>
<ellipse cx="1097" cy="373.1" rx="3.7" ry="2.5" transform="rotate(-35 1097 373.1)" fill="#f2d468" stroke="#fff3c0" stroke-width="0.7"/>
<ellipse cx="1097" cy="381.9" rx="3.7" ry="2.5" transform="rotate(-35 1097 381.9)" fill="#f2d468" stroke="#fff3c0" stroke-width="0.7"/>
<ellipse cx="1097" cy="390.7" rx="3.7" ry="2.5" transform="rotate(-35 1097 390.7)" fill="#f2d468" stroke="#fff3c0" stroke-width="0.7"/>
<ellipse cx="1097" cy="399.5" rx="3.7" ry="2.5" transform="rotate(-35 1097 399.5)" fill="#f2d468" stroke="#fff3c0" stroke-width="0.7"/>
<ellipse cx="1097" cy="408.3" rx="3.7" ry="2.5" transform="rotate(-35 1097 408.3)" fill="#f2d468" stroke="#fff3c0" stroke-width="0.7"/>
<ellipse cx="1097" cy="417.1" rx="3.7" ry="2.5" transform="rotate(-35 1097 417.1)" fill="#f2d468" stroke="#fff3c0" stroke-width="0.7"/>
<ellipse cx="1097" cy="425.9" rx="3.7" ry="2.5" transform="rotate(-35 1097 425.9)" fill="#f2d468" stroke="#fff3c0" stroke-width="0.7"/>
<ellipse cx="1097" cy="434.7" rx="3.7" ry="2.5" transform="rotate(-35 1097 434.7)" fill="#f2d468" stroke="#fff3c0" stroke-width="0.7"/>
<ellipse cx="1097" cy="443.5" rx="3.7" ry="2.5" transform="rotate(-35 1097 443.5)" fill="#f2d468" stroke="#fff3c0" stroke-width="0.7"/>
<ellipse cx="1097" cy="452.3" rx="3.7" ry="2.5" transform="rotate(-35 1097 452.3)" fill="#f2d468" stroke="#fff3c0" stroke-width="0.7"/>
<ellipse cx="1097" cy="461.1" rx="3.7" ry="2.5" transform="rotate(-35 1097 461.1)" fill="#f2d468" stroke="#fff3c0" stroke-width="0.7"/>
<ellipse cx="1105.5" cy="307.0" rx="3.7" ry="2.5" transform="rotate(-35 1105.5 307.0)" fill="#f2d468" stroke="#fff3c0" stroke-width="0.7"/>
<ellipse cx="1105.5" cy="315.8" rx="3.7" ry="2.5" transform="rotate(-35 1105.5 315.8)" fill="#f2d468" stroke="#fff3c0" stroke-width="0.7"/>
<ellipse cx="1105.5" cy="324.6" rx="3.7" ry="2.5" transform="rotate(-35 1105.5 324.6)" fill="#f2d468" stroke="#fff3c0" stroke-width="0.7"/>
<ellipse cx="1105.5" cy="333.4" rx="3.7" ry="2.5" transform="rotate(-35 1105.5 333.4)" fill="#f2d468" stroke="#fff3c0" stroke-width="0.7"/>
<ellipse cx="1105.5" cy="342.2" rx="3.7" ry="2.5" transform="rotate(-35 1105.5 342.2)" fill="#f2d468" stroke="#fff3c0" stroke-width="0.7"/>
<ellipse cx="1105.5" cy="351.0" rx="3.7" ry="2.5" transform="rotate(-35 1105.5 351.0)" fill="#f2d468" stroke="#fff3c0" stroke-width="0.7"/>
<ellipse cx="1105.5" cy="359.8" rx="3.7" ry="2.5" transform="rotate(-35 1105.5 359.8)" fill="#f2d468" stroke="#fff3c0" stroke-width="0.7"/>
<ellipse cx="1105.5" cy="368.6" rx="3.7" ry="2.5" transform="rotate(-35 1105.5 368.6)" fill="#f2d468" stroke="#fff3c0" stroke-width="0.7"/>
<ellipse cx="1105.5" cy="377.4" rx="3.7" ry="2.5" transform="rotate(-35 1105.5 377.4)" fill="#f2d468" stroke="#fff3c0" stroke-width="0.7"/>
<ellipse cx="1105.5" cy="386.2" rx="3.7" ry="2.5" transform="rotate(-35 1105.5 386.2)" fill="#f2d468" stroke="#fff3c0" stroke-width="0.7"/>
<ellipse cx="1105.5" cy="395.0" rx="3.7" ry="2.5" transform="rotate(-35 1105.5 395.0)" fill="#f2d468" stroke="#fff3c0" stroke-width="0.7"/>
<ellipse cx="1105.5" cy="403.8" rx="3.7" ry="2.5" transform="rotate(-35 1105.5 403.8)" fill="#f2d468" stroke="#fff3c0" stroke-width="0.7"/>
<ellipse cx="1105.5" cy="412.6" rx="3.7" ry="2.5" transform="rotate(-35 1105.5 412.6)" fill="#f2d468" stroke="#fff3c0" stroke-width="0.7"/>
<ellipse cx="1105.5" cy="421.4" rx="3.7" ry="2.5" transform="rotate(-35 1105.5 421.4)" fill="#f2d468" stroke="#fff3c0" stroke-width="0.7"/>
<ellipse cx="1105.5" cy="430.2" rx="3.7" ry="2.5" transform="rotate(-35 1105.5 430.2)" fill="#f2d468" stroke="#fff3c0" stroke-width="0.7"/>
<ellipse cx="1105.5" cy="439.0" rx="3.7" ry="2.5" transform="rotate(-35 1105.5 439.0)" fill="#f2d468" stroke="#fff3c0" stroke-width="0.7"/>
<ellipse cx="1105.5" cy="447.8" rx="3.7" ry="2.5" transform="rotate(-35 1105.5 447.8)" fill="#f2d468" stroke="#fff3c0" stroke-width="0.7"/>
<ellipse cx="1105.5" cy="456.6" rx="3.7" ry="2.5" transform="rotate(-35 1105.5 456.6)" fill="#f2d468" stroke="#fff3c0" stroke-width="0.7"/>
<polygon points="1013.0,372.0 1034.0,365.0 1061.0,375.0 1015.0,388.0" fill="url(#rib)" />
<polygon points="1015.0,388.0 1061.0,375.0 1061.0,377.0 1015.0,390.0" fill="#1d7fa6" />
<polygon points="870.5,430.0 892.0,417.0 980.3,489.0 953.0,511.8 870.5,439.0" fill="#bbbdbe" />
<polygon points="870.5,439.0 953.0,511.8 953.0,526.2 870.5,448.0" fill="#e2e3e4" />
<polygon points="953.0,511.8 1022.0,494.4 1022.7,508.8 953.0,526.2" fill="url(#gSlabF)" />
<polyline points="870.5,448 953,526.2 1022.7,508.8" fill="none" stroke="#8f9193" stroke-width="0.8"/>
<polygon points="874.0,424.0 893.0,437.0 893.0,442.0 874.0,429.0" fill="#dfeef2" />
<polygon points="883.6,263.0 900.6,258.3 1015.0,313.0 983.8,317.9" fill="#e3e5e6" />
<polygon points="890.0,264.5 899.0,262.0 1003.0,312.0 990.0,314.5" fill="#cdcfd0" />
<polygon points="883.6,263.0 983.8,317.9 983.8,333.0 883.6,280.0" fill="#c9cbcc" />
<polygon points="885.5,280.0 980.0,331.0 980.0,488.0 885.5,418.0" fill="url(#cop)" />
<line x1="885.5" y1="284.1" x2="980.0" y2="335.6" stroke="#743818" stroke-width="1.5" opacity="0.8"/>
<line x1="885.5" y1="288.1" x2="980.0" y2="340.2" stroke="#743818" stroke-width="1.5" opacity="0.8"/>
<line x1="885.5" y1="292.2" x2="980.0" y2="344.9" stroke="#743818" stroke-width="1.5" opacity="0.8"/>
<line x1="885.5" y1="296.2" x2="980.0" y2="349.5" stroke="#743818" stroke-width="1.5" opacity="0.8"/>
<line x1="885.5" y1="300.3" x2="980.0" y2="354.1" stroke="#743818" stroke-width="1.5" opacity="0.8"/>
<line x1="885.5" y1="304.4" x2="980.0" y2="358.7" stroke="#743818" stroke-width="1.5" opacity="0.8"/>
<line x1="885.5" y1="308.4" x2="980.0" y2="363.3" stroke="#743818" stroke-width="1.5" opacity="0.8"/>
<line x1="885.5" y1="312.5" x2="980.0" y2="367.9" stroke="#743818" stroke-width="1.5" opacity="0.8"/>
<line x1="885.5" y1="316.5" x2="980.0" y2="372.6" stroke="#743818" stroke-width="1.5" opacity="0.8"/>
<line x1="885.5" y1="320.6" x2="980.0" y2="377.2" stroke="#743818" stroke-width="1.5" opacity="0.8"/>
<line x1="885.5" y1="324.6" x2="980.0" y2="381.8" stroke="#743818" stroke-width="1.5" opacity="0.8"/>
<line x1="885.5" y1="328.7" x2="980.0" y2="386.4" stroke="#743818" stroke-width="1.5" opacity="0.8"/>
<line x1="885.5" y1="332.8" x2="980.0" y2="391.0" stroke="#743818" stroke-width="1.5" opacity="0.8"/>
<line x1="885.5" y1="336.8" x2="980.0" y2="395.6" stroke="#743818" stroke-width="1.5" opacity="0.8"/>
<line x1="885.5" y1="340.9" x2="980.0" y2="400.3" stroke="#743818" stroke-width="1.5" opacity="0.8"/>
<line x1="885.5" y1="344.9" x2="980.0" y2="404.9" stroke="#743818" stroke-width="1.5" opacity="0.8"/>
<line x1="885.5" y1="349.0" x2="980.0" y2="409.5" stroke="#743818" stroke-width="1.5" opacity="0.8"/>
<line x1="885.5" y1="353.1" x2="980.0" y2="414.1" stroke="#743818" stroke-width="1.5" opacity="0.8"/>
<line x1="885.5" y1="357.1" x2="980.0" y2="418.7" stroke="#743818" stroke-width="1.5" opacity="0.8"/>
<line x1="885.5" y1="361.2" x2="980.0" y2="423.4" stroke="#743818" stroke-width="1.5" opacity="0.8"/>
<line x1="885.5" y1="365.2" x2="980.0" y2="428.0" stroke="#743818" stroke-width="1.5" opacity="0.8"/>
<line x1="885.5" y1="369.3" x2="980.0" y2="432.6" stroke="#743818" stroke-width="1.5" opacity="0.8"/>
<line x1="885.5" y1="373.4" x2="980.0" y2="437.2" stroke="#743818" stroke-width="1.5" opacity="0.8"/>
<line x1="885.5" y1="377.4" x2="980.0" y2="441.8" stroke="#743818" stroke-width="1.5" opacity="0.8"/>
<line x1="885.5" y1="381.5" x2="980.0" y2="446.4" stroke="#743818" stroke-width="1.5" opacity="0.8"/>
<line x1="885.5" y1="385.5" x2="980.0" y2="451.1" stroke="#743818" stroke-width="1.5" opacity="0.8"/>
<line x1="885.5" y1="389.6" x2="980.0" y2="455.7" stroke="#743818" stroke-width="1.5" opacity="0.8"/>
<line x1="885.5" y1="393.6" x2="980.0" y2="460.3" stroke="#743818" stroke-width="1.5" opacity="0.8"/>
<line x1="885.5" y1="397.7" x2="980.0" y2="464.9" stroke="#743818" stroke-width="1.5" opacity="0.8"/>
<line x1="885.5" y1="401.8" x2="980.0" y2="469.5" stroke="#743818" stroke-width="1.5" opacity="0.8"/>
<line x1="885.5" y1="405.8" x2="980.0" y2="474.1" stroke="#743818" stroke-width="1.5" opacity="0.8"/>
<line x1="885.5" y1="409.9" x2="980.0" y2="478.8" stroke="#743818" stroke-width="1.5" opacity="0.8"/>
<line x1="885.5" y1="413.9" x2="980.0" y2="483.4" stroke="#743818" stroke-width="1.5" opacity="0.8"/>
<polygon points="883.6,263.0 886.0,264.3 886.0,420.0 883.6,418.0" fill="#d3d5d6" />
<polygon points="885.5,416.0 980.0,486.0 980.0,491.0 885.5,421.0" fill="#ecedee" />
<polygon points="980.0,316.5 1014.4,312.5 1014.4,493.0 980.0,498.5" fill="url(#gPlate)" />
<polygon points="980.0,316.5 983.8,317.9 983.8,497.9 980.0,498.5" fill="#cfd1d2" />
<ellipse cx="1008.5" cy="322.0" rx="3.4" ry="2.4" transform="rotate(-40 1008.5 322.0)" fill="#f2cf62" stroke="#fff3c0" stroke-width="0.7"/>
<ellipse cx="1008.5" cy="330.6" rx="3.4" ry="2.4" transform="rotate(-40 1008.5 330.6)" fill="#f2cf62" stroke="#fff3c0" stroke-width="0.7"/>
<ellipse cx="1008.5" cy="339.2" rx="3.4" ry="2.4" transform="rotate(-40 1008.5 339.2)" fill="#f2cf62" stroke="#fff3c0" stroke-width="0.7"/>
<ellipse cx="1008.5" cy="347.8" rx="3.4" ry="2.4" transform="rotate(-40 1008.5 347.8)" fill="#f2cf62" stroke="#fff3c0" stroke-width="0.7"/>
<ellipse cx="1008.5" cy="356.4" rx="3.4" ry="2.4" transform="rotate(-40 1008.5 356.4)" fill="#f2cf62" stroke="#fff3c0" stroke-width="0.7"/>
<ellipse cx="1008.5" cy="365.0" rx="3.4" ry="2.4" transform="rotate(-40 1008.5 365.0)" fill="#f2cf62" stroke="#fff3c0" stroke-width="0.7"/>
<ellipse cx="1008.5" cy="373.6" rx="3.4" ry="2.4" transform="rotate(-40 1008.5 373.6)" fill="#f2cf62" stroke="#fff3c0" stroke-width="0.7"/>
<ellipse cx="1008.5" cy="382.2" rx="3.4" ry="2.4" transform="rotate(-40 1008.5 382.2)" fill="#f2cf62" stroke="#fff3c0" stroke-width="0.7"/>
<ellipse cx="1008.5" cy="390.8" rx="3.4" ry="2.4" transform="rotate(-40 1008.5 390.8)" fill="#f2cf62" stroke="#fff3c0" stroke-width="0.7"/>
<ellipse cx="1008.5" cy="399.4" rx="3.4" ry="2.4" transform="rotate(-40 1008.5 399.4)" fill="#f2cf62" stroke="#fff3c0" stroke-width="0.7"/>
<ellipse cx="1008.5" cy="408.0" rx="3.4" ry="2.4" transform="rotate(-40 1008.5 408.0)" fill="#f2cf62" stroke="#fff3c0" stroke-width="0.7"/>
<ellipse cx="1008.5" cy="416.6" rx="3.4" ry="2.4" transform="rotate(-40 1008.5 416.6)" fill="#f2cf62" stroke="#fff3c0" stroke-width="0.7"/>
<ellipse cx="1008.5" cy="425.2" rx="3.4" ry="2.4" transform="rotate(-40 1008.5 425.2)" fill="#f2cf62" stroke="#fff3c0" stroke-width="0.7"/>
<ellipse cx="1008.5" cy="433.8" rx="3.4" ry="2.4" transform="rotate(-40 1008.5 433.8)" fill="#f2cf62" stroke="#fff3c0" stroke-width="0.7"/>
<ellipse cx="1008.5" cy="442.4" rx="3.4" ry="2.4" transform="rotate(-40 1008.5 442.4)" fill="#f2cf62" stroke="#fff3c0" stroke-width="0.7"/>
<ellipse cx="1008.5" cy="451.0" rx="3.4" ry="2.4" transform="rotate(-40 1008.5 451.0)" fill="#f2cf62" stroke="#fff3c0" stroke-width="0.7"/>
<ellipse cx="1008.5" cy="468.2" rx="3.4" ry="2.4" transform="rotate(-40 1008.5 468.2)" fill="#f2cf62" stroke="#fff3c0" stroke-width="0.7"/>
<ellipse cx="1008.5" cy="476.8" rx="3.4" ry="2.4" transform="rotate(-40 1008.5 476.8)" fill="#f2cf62" stroke="#fff3c0" stroke-width="0.7"/>
<ellipse cx="1008.5" cy="485.4" rx="3.4" ry="2.4" transform="rotate(-40 1008.5 485.4)" fill="#f2cf62" stroke="#fff3c0" stroke-width="0.7"/>
<path d="M915,271 v-9 q0,-5 5,-4 q4,1 4,6 v12" fill="none" stroke="#6fcbe2" stroke-width="1.8"/>
<path d="M930,280 v-9 q0,-5 5,-4 q4,1 4,6 v12" fill="none" stroke="#6fcbe2" stroke-width="1.8"/>
<path d="M945,288 v-9 q0,-5 5,-4 q4,1 4,6 v12" fill="none" stroke="#6fcbe2" stroke-width="1.8"/>
<polygon points="954.5,311.0 957.3,311.5 957.3,493.0 954.5,492.5" fill="#dcdedf" />
<line x1="955.9" y1="311" x2="955.9" y2="492" stroke="#a9abad" stroke-width="0.8"/>
<ellipse cx="966" cy="486" rx="6.5" ry="3" fill="#d5d7d8"/><path d="M958.5,489 h15.5 l-1.6,13 q-6.2,2.5 -12.3,0 z" fill="#d8202a"/>
<rect x="990" y="507" width="9" height="3.2" rx="1.5" transform="rotate(25 994 508)" fill="#bfc1c3"/>
<path d="M738,336 C712,335 690,344 674,358 C655,375 646,396 647,418 C648,455 662,495 692,528 C720,560 760,572 800,566 C846,559 868,540 868,512 L868,383 L810,399 Z" fill="url(#tealB)"/>
<path d="M674,358 C690,344 712,335 738,336 L810,399 L868,383 L868,470 L800,400 L700,395 L681,470 Z" fill="url(#tealT)"/>
<polygon points="738.4,287.6 783.4,280.5 867.3,330.6 867.3,383.0 810.0,399.0 738.4,335.7" fill="#1b8fae" />
<polygon points="742.0,290.5 783.0,284.0 862.0,331.5 811.0,337.5" fill="#14768f" />
<polygon points="783.0,284.0 862.0,331.5 862.0,352.0 783.0,300.0" fill="#1a8ba9" />
<polygon points="742.0,290.5 783.0,284.0 783.0,318.0 760.0,310.0" fill="#2196b5" />
<polygon points="738.4,287.6 810.0,338.7 810.0,399.0 738.4,335.7" fill="#3a9fba" />
<polygon points="738.4,287.6 810.0,338.7 810.0,352.0 738.4,300.0" fill="#1f8eac" opacity="0.6"/>
<polygon points="810.0,338.7 867.3,330.6 867.3,383.0 810.0,399.0" fill="#1c8dab" />
<polyline points="738.4,287.6 783.4,280.5 867.3,330.6 810,338.7 738.4,287.6" fill="none" stroke="#5fbcd3" stroke-width="1.6"/>
<line x1="810" y1="338.7" x2="810" y2="399" stroke="#4fb0c9" stroke-width="1"/>
<polygon points="760.0,356.0 810.0,399.0 868.0,383.0 868.0,398.0 812.0,416.0 748.0,362.0" fill="#127591" opacity="0.3"/>
<ellipse cx="776" cy="481" rx="93" ry="87.5" fill="url(#tealD)" stroke="#56b6ce" stroke-width="1"/>
<circle cx="834.5" cy="484.8" r="3.7" fill="#d4d8da" stroke="#7fb0be" stroke-width="0.8"/><circle cx="835.3" cy="485.6" r="1.8" fill="#aab0b3"/>
<circle cx="827.0" cy="513.0" r="3.7" fill="#d4d8da" stroke="#7fb0be" stroke-width="0.8"/><circle cx="827.8" cy="513.8" r="1.8" fill="#aab0b3"/>
<circle cx="806.5" cy="533.7" r="3.7" fill="#d4d8da" stroke="#7fb0be" stroke-width="0.8"/><circle cx="807.3" cy="534.5" r="1.8" fill="#aab0b3"/>
<circle cx="778.5" cy="541.3" r="3.7" fill="#d4d8da" stroke="#7fb0be" stroke-width="0.8"/><circle cx="779.3" cy="542.1" r="1.8" fill="#aab0b3"/>
<circle cx="750.5" cy="533.7" r="3.7" fill="#d4d8da" stroke="#7fb0be" stroke-width="0.8"/><circle cx="751.3" cy="534.5" r="1.8" fill="#aab0b3"/>
<circle cx="730.0" cy="513.0" r="3.7" fill="#d4d8da" stroke="#7fb0be" stroke-width="0.8"/><circle cx="730.8" cy="513.8" r="1.8" fill="#aab0b3"/>
<circle cx="722.5" cy="484.8" r="3.7" fill="#d4d8da" stroke="#7fb0be" stroke-width="0.8"/><circle cx="723.3" cy="485.6" r="1.8" fill="#aab0b3"/>
<circle cx="730.0" cy="456.6" r="3.7" fill="#d4d8da" stroke="#7fb0be" stroke-width="0.8"/><circle cx="730.8" cy="457.4" r="1.8" fill="#aab0b3"/>
<circle cx="750.5" cy="435.9" r="3.7" fill="#d4d8da" stroke="#7fb0be" stroke-width="0.8"/><circle cx="751.3" cy="436.7" r="1.8" fill="#aab0b3"/>
<circle cx="778.5" cy="428.3" r="3.7" fill="#d4d8da" stroke="#7fb0be" stroke-width="0.8"/><circle cx="779.3" cy="429.1" r="1.8" fill="#aab0b3"/>
<circle cx="806.5" cy="435.9" r="3.7" fill="#d4d8da" stroke="#7fb0be" stroke-width="0.8"/><circle cx="807.3" cy="436.7" r="1.8" fill="#aab0b3"/>
<circle cx="827.0" cy="456.6" r="3.7" fill="#d4d8da" stroke="#7fb0be" stroke-width="0.8"/><circle cx="827.8" cy="457.4" r="1.8" fill="#aab0b3"/>
<ellipse cx="778.8" cy="485.2" rx="49" ry="50" fill="#3a3e40"/>
<ellipse cx="777.8" cy="484.2" rx="47.5" ry="48.5" fill="url(#fanG)"/>
<ellipse cx="778.2" cy="485.4" rx="10.2" ry="10.4" fill="none" stroke="#3f4345" stroke-width="1.5" opacity="0.75"/>
<ellipse cx="777.6" cy="484.4" rx="8" ry="8.2" fill="none" stroke="#ffffff" stroke-width="1.5"/>
<ellipse cx="778.2" cy="485.4" rx="15.2" ry="15.5" fill="none" stroke="#3f4345" stroke-width="1.5" opacity="0.75"/>
<ellipse cx="777.6" cy="484.4" rx="13" ry="13.3" fill="none" stroke="#ffffff" stroke-width="1.5"/>
<ellipse cx="778.2" cy="485.4" rx="20.2" ry="20.6" fill="none" stroke="#3f4345" stroke-width="1.5" opacity="0.75"/>
<ellipse cx="777.6" cy="484.4" rx="18" ry="18.4" fill="none" stroke="#ffffff" stroke-width="1.5"/>
<ellipse cx="778.2" cy="485.4" rx="25.2" ry="25.7" fill="none" stroke="#3f4345" stroke-width="1.5" opacity="0.75"/>
<ellipse cx="777.6" cy="484.4" rx="23" ry="23.5" fill="none" stroke="#ffffff" stroke-width="1.5"/>
<ellipse cx="778.2" cy="485.4" rx="30.2" ry="30.8" fill="none" stroke="#3f4345" stroke-width="1.5" opacity="0.75"/>
<ellipse cx="777.6" cy="484.4" rx="28" ry="28.6" fill="none" stroke="#ffffff" stroke-width="1.5"/>
<ellipse cx="778.2" cy="485.4" rx="35.2" ry="35.9" fill="none" stroke="#3f4345" stroke-width="1.5" opacity="0.75"/>
<ellipse cx="777.6" cy="484.4" rx="33" ry="33.7" fill="none" stroke="#ffffff" stroke-width="1.5"/>
<ellipse cx="778.2" cy="485.4" rx="40.2" ry="41.0" fill="none" stroke="#3f4345" stroke-width="1.5" opacity="0.75"/>
<ellipse cx="777.6" cy="484.4" rx="38" ry="38.8" fill="none" stroke="#ffffff" stroke-width="1.5"/>
<ellipse cx="778.2" cy="485.4" rx="45.2" ry="46.1" fill="none" stroke="#3f4345" stroke-width="1.5" opacity="0.75"/>
<ellipse cx="777.6" cy="484.4" rx="43" ry="43.9" fill="none" stroke="#ffffff" stroke-width="1.5"/>
<line x1="777.8" y1="484.4" x2="824.8" y2="484.4" stroke="#ffffff" stroke-width="1.5"/>
<line x1="777.8" y1="484.4" x2="818.5" y2="508.4" stroke="#ffffff" stroke-width="1.5"/>
<line x1="777.8" y1="484.4" x2="801.3" y2="526.0" stroke="#ffffff" stroke-width="1.5"/>
<line x1="777.8" y1="484.4" x2="777.8" y2="532.4" stroke="#ffffff" stroke-width="1.5"/>
<line x1="777.8" y1="484.4" x2="754.3" y2="526.0" stroke="#ffffff" stroke-width="1.5"/>
<line x1="777.8" y1="484.4" x2="737.1" y2="508.4" stroke="#ffffff" stroke-width="1.5"/>
<line x1="777.8" y1="484.4" x2="730.8" y2="484.4" stroke="#ffffff" stroke-width="1.5"/>
<line x1="777.8" y1="484.4" x2="737.1" y2="460.4" stroke="#ffffff" stroke-width="1.5"/>
<line x1="777.8" y1="484.4" x2="754.3" y2="442.8" stroke="#ffffff" stroke-width="1.5"/>
<line x1="777.8" y1="484.4" x2="777.8" y2="436.4" stroke="#ffffff" stroke-width="1.5"/>
<line x1="777.8" y1="484.4" x2="801.3" y2="442.8" stroke="#ffffff" stroke-width="1.5"/>
<line x1="777.8" y1="484.4" x2="818.5" y2="460.4" stroke="#ffffff" stroke-width="1.5"/>
<ellipse cx="877" cy="492" rx="8" ry="6" fill="#c9cbcc"/><ellipse cx="877.5" cy="490.5" rx="6" ry="4.2" fill="#e9eaea"/><ellipse cx="877.5" cy="490.5" rx="3" ry="2" fill="#9a9c9e"/>
<ellipse cx="868" cy="515" rx="9" ry="4" fill="#c9cbcc"/>
<path d="M947,400 C930,392 915,389.5 902,392 C886,396 872,410 858,425 C846,438 834,449 821,452 C817,453 814,452.5 812,451.5 L809,444 L797,441 L789.4,445.5 L797,459 C803,462 809,462.5 815,462 C824,462 831,461.5 836.4,460.6 C848,458 858,452 866.7,444 C880,431 892,419 906,414 C920,408 934,403 947,400 Z" fill="#1f8db8"/>
<path d="M947,400 C930,392 915,389.5 902,392 C886,396 872,410 858,425 C846,438 834,449 821,452 C817,453 814,452.5 812,451.5 L809,444 L797,441 L789.4,445.5 L796,456 C802,459 808,459.5 814,459 C823,459 830,458.5 835.4,457.6 C847,455 857,449 865.7,441 C879,428 891,416 905,411 C919,405.5 934,401.5 947,400 Z" fill="#48b9dc"/>
<path d="M902,392 C886,396 872,410 858,425 C846,438 834,449 821,452 L824,455 C838,451 850,440 862,428 C876,413 890,400 906,396 Z" fill="#7dd3ea" opacity="0.55"/>
<path d="M784,467 L885.5,500.6 A5.2,7.6 0 0 1 881.5,515.6 L779.5,504.8 A12.5,19 0 0 1 784,467 Z" fill="#d9660f" transform="translate(-6,0.5)"/>
<path d="M784,467 L885.5,500.6 A5.2,7.6 0 0 1 881.5,515.6 L779.5,504.8 A12.5,19 0 0 1 784,467 Z" fill="url(#arm)" stroke="#fde0a8" stroke-width="0.9"/>
<ellipse cx="782.6" cy="485.6" rx="4.2" ry="4.6" fill="#d9dcde" stroke="#9c6224" stroke-width="0.9"/><ellipse cx="884" cy="507.9" rx="2.7" ry="3.2" fill="#eceeee" stroke="#9c6224" stroke-width="0.8"/>
<polygon points="674.0,357.0 1278.0,244.0 1276.0,455.0 674.0,612.0" fill="#ffffff" opacity="0.05"/>
<polygon points="738.0,336.0 810.0,399.0 868.0,383.0 868.0,321.0 674.0,357.0 700.0,345.0" fill="#ffffff" opacity="0.16"/>
<polygon points="596.0,299.0 674.0,357.0 674.0,496.0 596.0,513.5" fill="url(#gEnd)" />
<polygon points="596.0,513.5 674.0,496.0 674.0,612.0 596.0,517.0" fill="#ffffff" opacity="0.12"/>
<line x1="596" y1="513.5" x2="674" y2="496" stroke="#ffffff" stroke-width="1" opacity="0.7"/>
<polyline points="596,299 674,357 1278,244" fill="none" stroke="#ffffff" stroke-width="1.3" opacity="0.75"/>
<line x1="674" y1="357" x2="674" y2="612" stroke="#ffffff" stroke-width="1.4" opacity="0.7"/>
<line x1="596" y1="299" x2="1184" y2="209" stroke="#ffffff" stroke-width="1" opacity="0.8"/>
<path d="M806,251 L822.5,279.5 L815,275.5 L815,325 L796,315 L796,265 L791,261 Z" fill="url(#upA)"/>
<path d="M815,275.5 L815,325 L813.6,324.2 L813.6,274.8 Z" fill="#1f7896"/>
<polygon points="1202.4,23.8 1234.8,11.2 1295.0,31.7 1260.6,45.6" fill="url(#bArrT)" />
<polygon points="1260.6,45.6 1295.0,31.7 1295.0,138.9 1260.6,149.5" fill="url(#bArrS)" />
<polygon points="1202.4,23.8 1260.6,45.6 1260.6,149.5 1275.8,156.0 1308.9,143.5 1232.2,191.8 1190.5,123.0 1202.4,119.7" fill="url(#bArrF)" />
<polygon points="1260.6,149.5 1295.0,138.9 1308.9,143.5 1275.8,156.0" fill="#4aa6d4" />
<polygon points="1202.4,23.8 1204.6,24.6 1204.6,119.2 1202.4,119.7" fill="#5cc0ec" opacity="0.8"/>
<text x="1228.4" y="90" style="writing-mode:vertical-rl;text-orientation:upright" font-family="Liberation Sans, Noto Sans CJK KR, NanumGothic, sans-serif" font-weight="bold" font-size="29.5" letter-spacing="0.6" fill="#fff">절감</text>
</g>
<!--CHART-->
<g id="chart">
<line x1="111.5" y1="815.5" x2="808" y2="815.5" stroke="#e8131e" stroke-width="3" stroke-dasharray="4.2 9.4"/>
<rect x="143.3" y="981" width="23" height="134" fill="#f5894a"/>
<polygon points="166.3,981 178.3,968 178.3,1102 166.3,1115" fill="#ee1c2e"/>
<rect x="143.3" y="911" width="23" height="70.3" fill="#0bbde9"/>
<polygon points="166.3,911 178.3,898 178.3,968 166.3,981" fill="#0069b4"/>
<polygon points="143.3,911 155.3,898 178.3,898 166.3,911" fill="#b0e2f5"/>
<rect x="196.1" y="981" width="23" height="134" fill="#f5894a"/>
<polygon points="219.1,981 231.1,968 231.1,1102 219.1,1115" fill="#ef3e3b"/>
<rect x="196.1" y="879.4" width="23" height="101.9" fill="#0bbde9"/>
<polygon points="219.1,879.4 231.1,866.4 231.1,968 219.1,981" fill="#0069b4"/>
<polygon points="196.1,879.4 208.1,866.4 231.1,866.4 219.1,879.4" fill="#b0e2f5"/>
<rect x="249.0" y="981" width="23" height="134" fill="#f5894a"/>
<polygon points="272.0,981 284.0,968 284.0,1102 272.0,1115" fill="#ef3e3b"/>
<rect x="249.0" y="911" width="23" height="70.3" fill="#0bbde9"/>
<polygon points="272.0,911 284.0,898 284.0,968 272.0,981" fill="#0069b4"/>
<polygon points="249.0,911 261.0,898 284.0,898 272.0,911" fill="#b0e2f5"/>
<rect x="301.8" y="981" width="23" height="134" fill="#f5894a"/>
<polygon points="324.8,981 336.8,968 336.8,1102 324.8,1115" fill="#ef3e3b"/>
<rect x="301.8" y="964" width="23" height="17.3" fill="#0bbde9"/>
<polygon points="324.8,964 336.8,951 336.8,968 324.8,981" fill="#0069b4"/>
<polygon points="301.8,964 313.8,951 336.8,951 324.8,964" fill="#b0e2f5"/>
<rect x="354.6" y="981" width="23" height="134" fill="#f5894a"/>
<polygon points="377.6,981 389.6,968 389.6,1102 377.6,1115" fill="#ef3e3b"/>
<polygon points="354.6,981 366.6,968 389.6,968 377.6,981" fill="#fbb04c"/>
<rect x="407.4" y="981" width="23" height="134" fill="#f5894a"/>
<polygon points="430.4,981 442.4,968 442.4,1102 430.4,1115" fill="#ef3e3b"/>
<rect x="407.4" y="911" width="23" height="70.3" fill="#0bbde9"/>
<polygon points="430.4,911 442.4,898 442.4,968 430.4,981" fill="#0069b4"/>
<polygon points="407.4,911 419.4,898 442.4,898 430.4,911" fill="#b0e2f5"/>
<rect x="460.3" y="981" width="23" height="134" fill="#f5894a"/>
<polygon points="483.3,981 495.3,968 495.3,1102 483.3,1115" fill="#ef3e3b"/>
<rect x="460.3" y="858" width="23" height="123.3" fill="#0bbde9"/>
<polygon points="483.3,858 495.3,845 495.3,968 483.3,981" fill="#0069b4"/>
<polygon points="460.3,858 472.3,845 495.3,845 483.3,858" fill="#b0e2f5"/>
<rect x="513.1" y="981" width="23" height="134" fill="#f5894a"/>
<polygon points="536.1,981 548.1,968 548.1,1102 536.1,1115" fill="#ef3e3b"/>
<rect x="513.1" y="815.8" width="23" height="165.5" fill="#0bbde9"/>
<polygon points="536.1,815.8 548.1,802.8 548.1,968 536.1,981" fill="#0069b4"/>
<polygon points="513.1,815.8 525.1,802.8 548.1,802.8 536.1,815.8" fill="#b0e2f5"/>
<rect x="565.9" y="981" width="23" height="134" fill="#f5894a"/>
<polygon points="588.9,981 600.9,968 600.9,1102 588.9,1115" fill="#ef3e3b"/>
<rect x="565.9" y="858" width="23" height="123.3" fill="#0bbde9"/>
<polygon points="588.9,858 600.9,845 600.9,968 588.9,981" fill="#0069b4"/>
<polygon points="565.9,858 577.9,845 600.9,845 588.9,858" fill="#b0e2f5"/>
<rect x="618.8" y="981" width="23" height="134" fill="#f5894a"/>
<polygon points="641.8,981 653.8,968 653.8,1102 641.8,1115" fill="#ef3e3b"/>
<rect x="618.8" y="953.6" width="23" height="27.7" fill="#0bbde9"/>
<polygon points="641.8,953.6 653.8,940.6 653.8,968 641.8,981" fill="#0069b4"/>
<polygon points="618.8,953.6 630.8,940.6 653.8,940.6 641.8,953.6" fill="#b0e2f5"/>
<rect x="671.6" y="981" width="23" height="134" fill="#f5894a"/>
<polygon points="694.6,981 706.6,968 706.6,1102 694.6,1115" fill="#ef3e3b"/>
<polygon points="671.6,981 683.6,968 706.6,968 694.6,981" fill="#fbb04c"/>
<rect x="724.4" y="981" width="23" height="134" fill="#f5894a"/>
<polygon points="747.4,981 759.4,968 759.4,1102 747.4,1115" fill="#ef3e3b"/>
<rect x="724.4" y="879.4" width="23" height="101.9" fill="#0bbde9"/>
<polygon points="747.4,879.4 759.4,866.4 759.4,968 747.4,981" fill="#0069b4"/>
<polygon points="724.4,879.4 736.4,866.4 759.4,866.4 747.4,879.4" fill="#b0e2f5"/>
<line x1="112" y1="911" x2="802" y2="911" stroke="#2e2a92" stroke-width="5.5" stroke-dasharray="10.6 16.7"/>
<text transform="translate(157.5,1163.5) scale(0.92,1)" text-anchor="middle" class="dg">1</text>
<text transform="translate(207.5,1163.5) scale(0.92,1)" text-anchor="middle" class="dg">2</text>
<text transform="translate(260,1163.5) scale(0.92,1)" text-anchor="middle" class="dg">3</text>
<text transform="translate(312,1163.5) scale(0.92,1)" text-anchor="middle" class="dg">4</text>
<text transform="translate(365,1163.5) scale(0.92,1)" text-anchor="middle" class="dg">5</text>
<text transform="translate(418,1163.5) scale(0.92,1)" text-anchor="middle" class="dg">6</text>
<text transform="translate(471.4,1163.5) scale(0.92,1)" text-anchor="middle" class="dg">7</text>
<text transform="translate(576,1163.5) scale(0.92,1)" text-anchor="middle" class="dg">9</text>
<text transform="translate(630.6,1163.5) scale(0.92,1)" text-anchor="middle" class="dg">10</text>
<text transform="translate(684,1163.5) scale(0.92,1)" text-anchor="middle" class="dg">11</text>
<text transform="translate(735.7,1163.5) scale(0.92,1)" text-anchor="middle" class="dg">12</text>
<circle cx="525" cy="1152" r="20.7" fill="none" stroke="#e8131e" stroke-width="6"/>
<text transform="translate(525,1162.3) scale(0.9,1)" text-anchor="middle" font-family="Liberation Sans, sans-serif" font-weight="bold" font-size="29" fill="#e8131e">8</text>
<text x="446.7" y="1217" text-anchor="middle" class="kr" font-size="22.5" fill="#231f20">크린룸 설비의 에너지 소비량</text>
<!-- arrows -->
<g fill="#231f20" stroke="none">
<rect x="846" y="814" width="84" height="2.2"/><polygon points="836,815 852,807 852,823"/>
<rect x="846" y="910" width="84" height="2.2"/><polygon points="836,911 852,903 852,919"/>
</g>
<text x="1083" y="824" text-anchor="middle" class="kr" font-size="26.5" fill="#231f20">최대 소비전력지 1년간</text>
<text x="1083" y="858" text-anchor="middle" class="kr" font-size="26.3" fill="#231f20">기본요금결정</text>
<text x="960" y="920.5" class="kr" font-size="26.4" font-weight="500" fill="#e8131e">변경 후 전력</text>
<!-- legend -->
<rect x="924.4" y="1006" width="41.3" height="4.2" fill="#e8131e"/>
<rect x="924.4" y="1050" width="41.3" height="4.2" fill="#2e2a92"/>
<text x="991.5" y="1017" class="kr" font-size="26.1" fill="#231f20">계약전력</text>
<text x="991.5" y="1061" class="kr" font-size="26.1" fill="#231f20">변경후 계약전력</text>
<text x="991.5" y="1126" class="kr" font-size="26.1" fill="#231f20">사용전력</text>
<text x="991.5" y="1166" class="kr" font-size="26.1" fill="#231f20">기본전력</text>
<g transform="translate(930,1107)"><polygon points="0,8 20,8 20,21 0,21" fill="#0bbde9"/><polygon points="0,8 10,0 30,0 20,8" fill="#b0e2f5"/><polygon points="20,8 30,0 30,13 20,21" fill="#0069b4"/></g>
<g transform="translate(930,1146.5)"><polygon points="0,8 20,8 20,21 0,21" fill="#f5894a"/><polygon points="0,8 10,0 30,0 20,8" fill="#fbb04c"/><polygon points="20,8 30,0 30,13 20,21" fill="#ef3e3b"/></g>
</g>
<!-- equals and plus -->
<defs>
<linearGradient id="cy" x1="0" y1="0" x2="0" y2="1"><stop offset="0" stop-color="#55c6de"/><stop offset="0.5" stop-color="#37b9d5"/><stop offset="1" stop-color="#2eaccc"/></linearGradient>
</defs>
<rect x="275.4" y="1393.3" width="56.5" height="19.3" fill="url(#cy)"/>
<rect x="275.4" y="1429.8" width="56.5" height="19.3" fill="url(#cy)"/>
<rect x="806.5" y="1392" width="21" height="56.5" fill="url(#cy)"/>
<rect x="789" y="1409.5" width="56" height="21" fill="url(#cy)"/>
</svg>

<div class="circ" style="left:58.5px;top:1327.3px;background:#f4bdd0;border:8px solid #ef9bbc;color:#fff;font-size:38px;line-height:49px;padding-top:38.9px;font-weight:500;letter-spacing:-1.2px;">월간<br>전기요금</div>
<div class="circ" style="left:367.5px;top:1327px;background:#fcba45;border:8px solid #f59a23;color:#fff;padding-top:41.4px;letter-spacing:-1px;"><div style="font-size:37.5px;line-height:49.5px;font-weight:500;">기본요금</div><div style="font-size:32.5px;line-height:42px;font-weight:300;">(고정)</div></div>
<div class="circ" style="left:872.5px;top:1327px;background:#acdcea;border:8px solid #58c3e6;color:#231f20;padding-top:14.9px;letter-spacing:-1px;"><div style="font-size:38px;line-height:50px;font-weight:500;">사용<br>전력량</div><div style="font-size:32px;line-height:43px;font-weight:400;">(요금)</div></div>

<div class="bx" style="left:575.5px;top:1346.3px;background:#eaeca2;">계약전력</div>
<div class="xx" style="left:575.5px;top:1377.5px;">x</div>
<div class="bx" style="left:575.5px;top:1405.6px;background:#fddda8;">기본요금단가</div>
<div class="xx" style="left:575.5px;top:1436.5px;">x</div>
<div class="bx" style="left:575.5px;top:1465.2px;background:#e4eed7;">역율할인</div>

<div class="bx" style="left:1082.5px;top:1346.3px;background:#eaeca2;">전력요금단가</div>
<div class="xx" style="left:1082.5px;top:1377.5px;">x</div>
<div class="bx" style="left:1082.5px;top:1405.6px;background:#fddda8;">사용전력량</div>
<div class="xx" style="left:1082.5px;top:1436.5px;">x</div>
<div class="bx" style="left:1082.5px;top:1465.2px;background:#e4eed7;">할증율</div>
</body></html>
